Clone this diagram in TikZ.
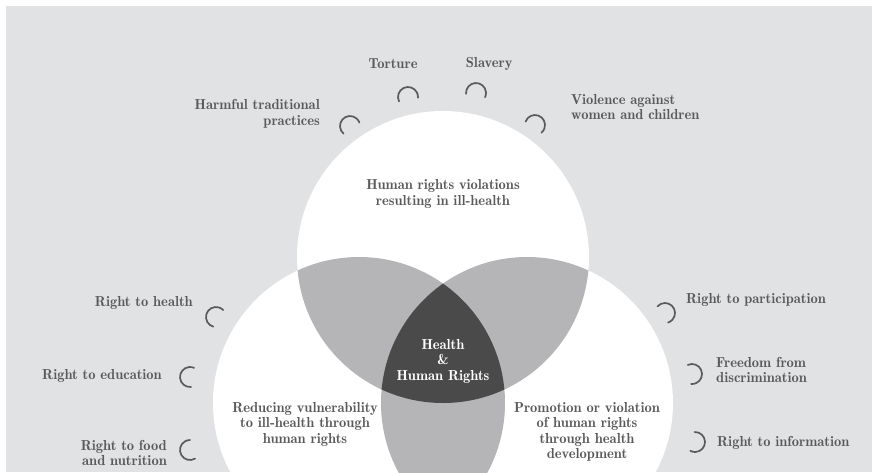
\documentclass[tikz,border=0pt]{standalone}
\usepackage{tikz}
\usepackage{xcolor}
\usetikzlibrary{positioning}

\definecolor{bg-a}{HTML}{E1E2E3}
\definecolor{lens-a}{HTML}{B5B5B7}
\definecolor{core-a}{HTML}{4A4A4B}
\definecolor{ink-a}{HTML}{5A5A5B}

\newcommand{\hookarc}[3]{\draw[hook-a] (#1,#2) ++(#3+75:10) arc[start angle=#3+75, end angle=#3+285, radius=10];}

\begin{document}
\begin{tikzpicture}
[
x=1pt, y=-1pt,
text-a/.style={text=ink-a, inner sep=0pt, font=\fontsize{14.5}{15.5}\fontseries{b}\selectfont},
text-b/.style={text-a, align=center},
text-c/.style={text-b, text=white},
hook-a/.style={draw=ink-a, line width=1.7pt, line cap=round}
]
\useasboundingbox (0,0) rectangle (872,472);
\fill[white] (0,0) rectangle (872,472);
\fill[bg-a]  (6,6) rectangle (872,472);

\coordinate (c-top)   at (443,257);
\coordinate (c-left)  at (359,403);
\coordinate (c-right) at (527,403);
\def\rad{146}

\fill[white] (c-top)   circle[radius=\rad];
\fill[white] (c-left)  circle[radius=\rad];
\fill[white] (c-right) circle[radius=\rad];
\begin{scope}
  \clip (c-top) circle[radius=\rad];
  \fill[lens-a] (c-left)  circle[radius=\rad];
  \fill[lens-a] (c-right) circle[radius=\rad];
\end{scope}
\begin{scope}
  \clip (c-left) circle[radius=\rad];
  \fill[lens-a] (c-right) circle[radius=\rad];
  \clip (c-top) circle[radius=\rad];
  \fill[core-a] (c-right) circle[radius=\rad];
\end{scope}

\node (violations) [text-b] at (443,194) {Human rights violations\\resulting in ill-health};
\node (core)       [text-c] at (443,361) {Health\\\&\\Human Rights};
\node (reducing)   [text-b] at (305,424) {Reducing vulnerability\\to ill-health through\\human rights};
\node (promotion)  [text-b] at (587,432) {Promotion or violation\\of human rights\\through health\\development};

\node (torture)  [text-a                            ] at (393,64) {Torture};
\node (slavery)  [text-a, right = 48pt of torture   ] {Slavery};
\node (harmful)  [text-a, anchor=east, align=right  ] at (320,114) {Harmful traditional\\practices};
\node (violence) [text-a, anchor=west, align=left   ] at (571,107) {Violence against\\women and children};
\node (r-health) [text-a, anchor=east               ] at (193,303) {Right to health};
\node (r-edu)    [text-a, anchor=east               ] at (162,376) {Right to education};
\node (r-food)   [text-a, anchor=east, align=right  ] at (167,453) {Right to food\\and nutrition};
\node (r-part)   [text-a, anchor=west               ] at (686,300) {Right to participation};
\node (r-free)   [text-a, anchor=west, align=left   ] at (716,370) {Freedom from\\discrimination};
\node (r-info)   [text-a, anchor=west               ] at (717,443) {Right to information};

\hookarc{350}{126}{55}
\hookarc{408}{97}{79}
\hookarc{476}{93}{100}
\hookarc{535}{125}{125}
\hookarc{216}{317}{31}
\hookarc{190}{377}{9}
\hookarc{190}{450}{-15}
\hookarc{665}{313}{147}
\hookarc{692}{374}{170}
\hookarc{695}{442}{193}
\end{tikzpicture}
\end{document}
